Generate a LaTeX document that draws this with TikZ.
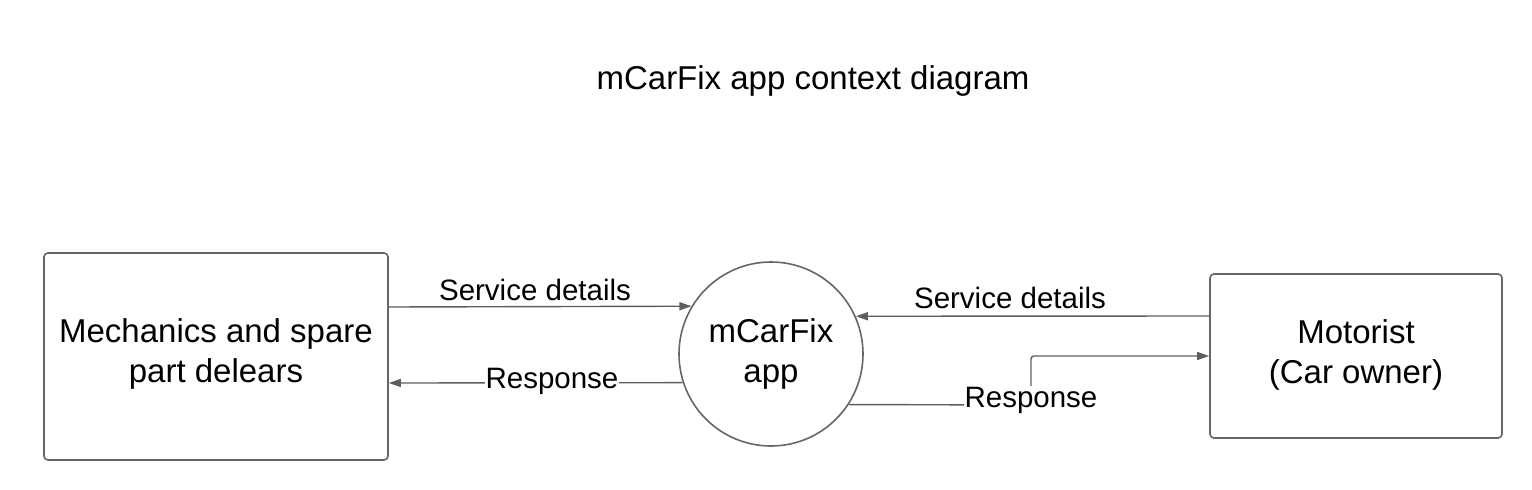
\documentclass[tikz,border=0pt]{standalone}
\usepackage{fontspec}
\setmainfont{Liberation Sans}
\usetikzlibrary{arrows.meta}
\definecolor{linegray}{HTML}{5E5E5E}
\definecolor{boxgray}{HTML}{666666}
\begin{document}
\begin{tikzpicture}[x=1pt,y=-1pt,
  entity/.style={draw=boxgray, line width=1.6pt, rounded corners=4pt, fill=white, align=center, inner sep=0pt, font=\fontsize{33}{40}\selectfont},
  proc/.style={draw=boxgray, line width=1.6pt, circle, minimum size=184pt, inner sep=0pt, align=center, font=\fontsize{33}{40}\selectfont},
  flow/.style={draw=linegray, line width=1.4pt, -{Triangle[length=12pt,width=8pt]}},
  lbl/.style={font=\fontsize{29.5}{34}\selectfont, inner sep=0.5pt},
  lblw/.style={lbl, fill=white}]
\useasboundingbox[fill=white] (0,0) rectangle (1532,490);
\node[font=\fontsize{33}{40}\selectfont] (title) at (813,81) {mCarFix app context diagram};
\node[entity, minimum width=344pt, minimum height=207pt] (mech) at (216,356.5) {};
\node[font=\fontsize{33}{40}\selectfont, align=center] (mechtxt) at (216,353.5) {Mechanics and spare\\part delears};
\node[proc] (app) at (771,354) {mCarFix\\app};
\node[entity, minimum width=292pt, minimum height=164pt] (mot) at (1356,356) {};
\node[font=\fontsize{33}{40}\selectfont, align=center] (mottxt) at (1356,355) {Motorist\\(Car owner)};
% left flows
\draw[flow] (mech.east |- 0,307) -- (app.149.3);
\node[lbl] (l1) at (535,290) {Service details};
\draw[flow] (app.198.4) -- (mech.east |- 0,383);
\node[lblw] (l2) at (552,381) {Response};
% right flows
\draw[flow] (mot.west |- 0,316) -- (app.24.4);
\node[lbl] (l3) at (1010,298) {Service details};
\coordinate (rc) at (1031,405);
\draw[draw=linegray, line width=1.4pt] (app.-33.7) -- (rc);
\draw[flow, rounded corners=3pt] (rc) -- (1031,356) -- (mot.west |- 0,356);
\node[lblw] (l4) at (1031,400) {Response};
\end{tikzpicture}
\end{document}
